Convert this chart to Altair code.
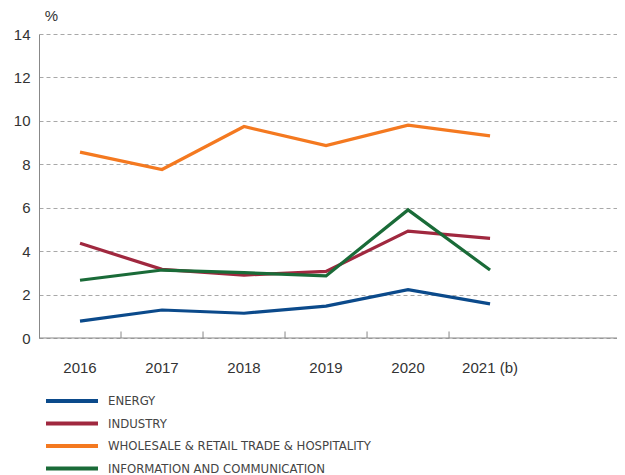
import altair as alt
import pandas as pd

years = ["2016", "2017", "2018", "2019", "2020", "2021 (b)"]
series = ["ENERGY", "INDUSTRY", "WHOLESALE & RETAIL TRADE & HOSPITALITY", "INFORMATION AND COMMUNICATION"]
energy = [0.78, 1.29, 1.14, 1.47, 2.23, 1.57]
industry = [4.36, 3.16, 2.90, 3.07, 4.92, 4.59]
wholesale = [8.56, 7.76, 9.74, 8.86, 9.80, 9.31]
ict = [2.66, 3.13, 3.01, 2.86, 5.90, 3.13]
colors = ["#0b4a8b", "#a0283f", "#f47920", "#1a6b38"]
y_ticks = [0, 2, 4, 6, 8, 10, 12, 14]
boundary_years = years[1:]

rows = []
for name, vals in zip(series, [energy, industry, wholesale, ict]):
    for yr, v in zip(years, vals):
        rows.append({"year": yr, "series": name, "value": v})
df = pd.DataFrame(rows)
ticks_df = pd.DataFrame({"year": boundary_years, "value": [0.0] * 5, "y1": [0.3] * 5})

W, H = 578, 304

xscale = alt.Scale(domain=years, paddingInner=0, paddingOuter=0.524, align=0)
yscale = alt.Scale(domain=[0, 14], nice=False)

xaxis = alt.Axis(title=None, labelAngle=0, domain=False, ticks=False, labelPadding=22,
                 bandPosition=0.5,
                 labelFontSize=15, labelColor="#333333", labelFont="Liberation Sans")
yaxis = alt.Axis(values=y_ticks, title="%", titleAngle=0, titleX=12, titleY=-11,
                 titleAlign="center", titleBaseline="bottom", titleFontWeight="normal",
                 titleFontSize=15, titleColor="#333333", titleFont="Liberation Sans",
                 labelFontSize=15, labelColor="#333333", labelFont="Liberation Sans",
                 labelPadding=9, ticks=False, domain=True, domainColor="#888888",
                 grid=True, gridColor="#a8a8a8", gridDash=[4, 3], gridWidth=1)

lines = alt.Chart(df).mark_line(strokeWidth=3.2).encode(
    x=alt.X("year:N", scale=xscale, sort=years, axis=xaxis),
    y=alt.Y("value:Q", scale=yscale, axis=yaxis),
    color=alt.Color("series:N", sort=series,
                    scale=alt.Scale(domain=series, range=colors),
                    legend=alt.Legend(title=None, orient="none", legendX=23, legendY=357,
                                      direction="vertical", padding=0,
                                      symbolType="M-3.25,0H3.25", symbolSize=256,
                                      symbolStrokeWidth=4, labelOffset=26, rowPadding=4.5,
                                      labelFontSize=13, labelColor="#444444",
                                      labelFont="Liberation Sans Narrow, DejaVu Sans Condensed",
                                      labelLimit=400)),
)

xaxis_line = alt.Chart(pd.DataFrame({"value": [0]})).mark_rule(color="#888888", strokeWidth=1).encode(
    y=alt.Y("value:Q", scale=yscale, axis=yaxis)
)

xticks = alt.Chart(ticks_df).mark_rule(color="#888888", strokeWidth=1).encode(
    x=alt.X("year:N", scale=xscale, sort=years, bandPosition=0, axis=xaxis),
    y=alt.Y("value:Q", scale=yscale, axis=yaxis),
    y2="y1:Q",
)

chart = alt.layer(lines, xaxis_line, xticks).properties(
    width=W, height=H,
    autosize=alt.AutoSizeParams(type="none"),
    padding={"left": 31, "top": 26, "right": 0, "bottom": 137},
).configure_view(stroke=None).configure_axis(gridOpacity=1)

chart.save("out.html", embed_options={"renderer": "svg", "actions": False})
